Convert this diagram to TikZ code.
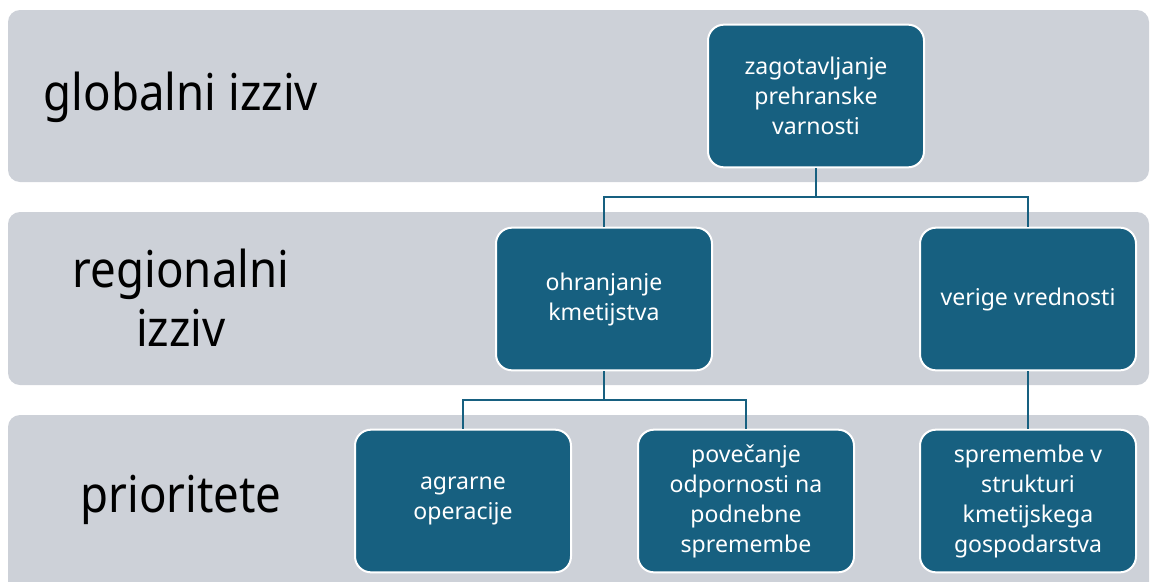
\documentclass[tikz,border=0pt]{standalone}
\usepackage{fontspec}
\setmainfont{Noto Sans}
\newfontfamily\bandfont[FakeStretch=0.9]{Noto Sans}
\usetikzlibrary{positioning}

\definecolor{bandgray}{RGB}{205,209,216}
\definecolor{boxteal}{RGB}{23,96,128}

\begin{document}
\begin{tikzpicture}[x=0.75pt,y=-0.75pt,semithick]

  \tikzstyle{band}=[fill=bandgray,rounded corners=9pt]
  \tikzstyle{level}=[font=\bandfont\fontsize{38}{44}\selectfont,align=center]
  \tikzstyle{goal}=[rectangle,rounded corners=12pt,draw=white,line width=1.5pt,
                    fill=boxteal,text=white,align=center,
                    minimum width=162pt,minimum height=107pt,
                    font=\fontsize{17.3}{22.5}\selectfont]
  \tikzstyle{link}=[draw=boxteal,line width=1.6pt]

  \useasboundingbox (0,0) rectangle (1150,582);

  % bands
  \fill[band] (8,10) rectangle (1149,182);
  \fill[band] (8,212) rectangle (1149,385);
  \fill[band] (8,415) rectangle (1149,600);

  \node[level] (GL) at (181,97)  {globalni izziv};
  \node[level] (RL) at (181,298) {regionalni\\izziv};
  \node[level] (PL) at (181,500) {prioritete};

  % boxes
  \node[goal] (ZV) at (816,96)   {zagotavljanje\\prehranske\\varnosti};
  \node[goal] (OK) at (604,299)  {ohranjanje\\kmetijstva};
  \node[goal] (VV) at (1028,299) {verige vrednosti};
  \node[goal] (AO) at (463,501)  {agrarne\\operacije};
  \node[goal] (PO) at (746,501)  {povečanje\\odpornosti na\\podnebne\\spremembe};
  \node[goal] (SS) at (1028,501) {spremembe v\\strukturi\\kmetijskega\\gospodarstva};

  \coordinate (J1) at (816,197);
  \coordinate (J2) at (604,400);

  \path[link] (ZV.south) -- (J1) -| (OK.north)
              (J1) -| (VV.north)
              (OK.south) -- (J2) -| (AO.north)
              (J2) -| (PO.north)
              (VV.south) -- (SS.north);
\end{tikzpicture}
\end{document}
